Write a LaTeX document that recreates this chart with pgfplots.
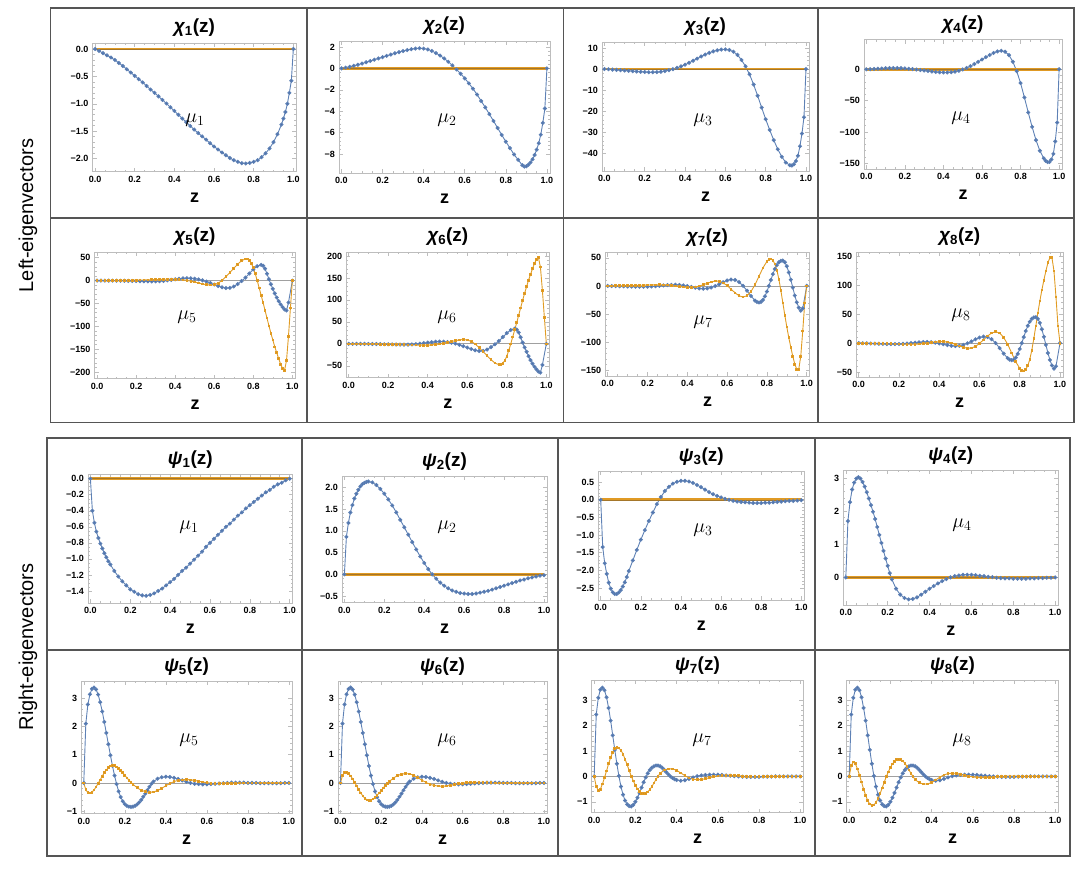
\RequirePackage{fix-cm}
\documentclass[border=0pt]{standalone}
\usepackage[no-math]{fontspec}
\setmainfont{Liberation Sans}
\usepackage{pgfplots}
\pgfplotsset{compat=1.18}
\definecolor{blueL}{HTML}{5E81B5}
\definecolor{blueM}{HTML}{4B6FAB}
\definecolor{orangeL}{HTML}{E19C24}
\definecolor{orangeM}{HTML}{D98F1A}
\definecolor{orangeF}{HTML}{E09A24}
\definecolor{flatcore}{HTML}{A4762A}
\definecolor{frameG}{HTML}{BDBDBD}
\definecolor{zeroG}{HTML}{A0A0A0}
\definecolor{boxG}{HTML}{555555}
\newcommand\tickfont{\fontsize{9}{10}\selectfont\bfseries}
\newcommand\ttlfont{\fontsize{19}{22}\selectfont\bfseries}
\newcommand\zfont{\fontsize{18}{21}\selectfont\bfseries}
\newcommand\mufont{\fontsize{20}{24}\selectfont}
\newcommand\sidefont{\fontsize{20}{24}\selectfont}
\pgfplotsset{
 panel/.style={
  scale only axis, anchor=south west,
  xmin=-0.012, xmax=1.015,
  xtick={0,0.2,0.4,0.6,0.8,1.0},
  xticklabels={0.0,0.2,0.4,0.6,0.8,1.0},
  minor x tick num=3, minor y tick num=4,
  axis line style={draw=frameG, line width=0.6pt},
  tick style={draw=frameG, line width=0.5pt},
  major tick length=4pt, minor tick length=2pt,
  tick align=inside,
  xticklabel style={font=\tickfont, text=black, anchor=north, inner sep=0pt, yshift=-4pt},
  yticklabel style={font=\tickfont, text=black, anchor=east, inner sep=0pt, xshift=-4pt},
  xlabel={z},
  xlabel style={font=\zfont, at={(axis description cs:0.5,0)}, anchor=base, yshift=-30.5pt},
  title style={font=\ttlfont, at={(axis description cs:0.5,1)}, anchor=base, yshift=4pt},
  extra y ticks={0}, extra y tick labels={},
  extra y tick style={grid=major, major grid style={draw=zeroG, line width=0.8pt}, major tick length=0pt},
 },
 bl/.style={color=blueL, line width=0.9pt, mark=*, mark size=1.55pt, mark options={draw=none, fill=blueM}},
 orl/.style={color=orangeL, line width=0.9pt, mark=square*, mark size=0.85pt, mark options={draw=none, fill=orangeM}},
 flat/.style={color=orangeF, line width=2.8pt},
 flatc/.style={color=flatcore, line width=0.6pt},
}
\begin{document}
\begin{tikzpicture}
\path[use as bounding box] (0,0) rectangle (1084pt,875pt);

% ---------- chi 1
\begin{axis}[panel, at={(92.7pt,703.3pt)}, width=203.6pt, height=128.7pt,
  ymin=-2.24, ymax=0.11, ytick={-2,-1.5,-1,-0.5,0}, yticklabels={−2.0,−1.5,−1.0,−0.5,0.0},
  title={{\itshape χ}\textsubscript{1}(z)}]
\addplot[bl] coordinates {(0,0) (0.02,-0.035) (0.04,-0.075) (0.06,-0.115) (0.08,-0.155) (0.10,-0.200) (0.12,-0.255) (0.14,-0.310) (0.16,-0.370) (0.18,-0.430) (0.20,-0.490) (0.22,-0.550) (0.24,-0.610) (0.26,-0.675) (0.28,-0.740) (0.30,-0.800) (0.32,-0.865) (0.34,-0.930) (0.36,-0.995) (0.38,-1.065) (0.40,-1.130) (0.42,-1.200) (0.44,-1.270) (0.46,-1.335) (0.48,-1.405) (0.50,-1.470) (0.52,-1.535) (0.54,-1.595) (0.56,-1.655) (0.58,-1.720) (0.60,-1.780) (0.62,-1.835) (0.64,-1.890) (0.66,-1.940) (0.68,-1.990) (0.70,-2.030) (0.72,-2.060) (0.74,-2.085) (0.76,-2.090) (0.78,-2.080) (0.80,-2.060) (0.82,-2.030) (0.84,-1.975) (0.86,-1.905) (0.88,-1.815) (0.90,-1.700) (0.92,-1.555) (0.94,-1.380) (0.95,-1.270) (0.96,-1.150) (0.97,-1.000) (0.98,-0.800) (0.99,-0.580) (1.00,0)};
\addplot[flat] coordinates {(0,0) (1,0)};
\addplot[flatc] coordinates {(0,0) (1,0)};
\end{axis}

% ---------- chi 2
\begin{axis}[panel, at={(339pt,702pt)}, width=211pt, height=132pt,
  ymin=-9.78, ymax=2.56, ytick={-8,-6,-4,-2,0,2}, yticklabels={−8,−6,−4,−2,0,2},
  title={{\itshape χ}\textsubscript{2}(z)}]
\addplot[bl] coordinates {(0,0) (0.02,0.07) (0.04,0.15) (0.06,0.24) (0.08,0.34) (0.10,0.45) (0.12,0.57) (0.14,0.69) (0.16,0.81) (0.18,0.93) (0.20,1.05) (0.22,1.17) (0.24,1.29) (0.26,1.41) (0.28,1.52) (0.30,1.62) (0.32,1.71) (0.34,1.79) (0.36,1.85) (0.38,1.88) (0.40,1.85) (0.42,1.77) (0.44,1.63) (0.46,1.43) (0.48,1.20) (0.50,0.93) (0.52,0.62) (0.54,0.28) (0.56,-0.10) (0.58,-0.50) (0.60,-0.93) (0.62,-1.40) (0.64,-1.90) (0.66,-2.45) (0.68,-3.05) (0.70,-3.65) (0.72,-4.28) (0.74,-4.92) (0.76,-5.57) (0.78,-6.22) (0.80,-6.85) (0.82,-7.45) (0.84,-8.05) (0.86,-8.55) (0.88,-9.05) (0.89,-9.18) (0.90,-9.15) (0.91,-9.00) (0.92,-8.80) (0.93,-8.50) (0.94,-8.10) (0.95,-7.60) (0.96,-7.00) (0.97,-6.20) (0.98,-5.10) (0.99,-3.75) (1.00,0)};
\addplot[flat] coordinates {(0,0) (1,0)};
\addplot[flatc] coordinates {(0,0) (1,0)};
\end{axis}

% ---------- chi 3
\begin{axis}[panel, at={(602pt,704pt)}, width=207pt, height=129pt,
  ymin=-48.2, ymax=12.8, ytick={-40,-30,-20,-10,0,10}, yticklabels={−40,−30,−20,−10,0,10},
  title={{\itshape χ}\textsubscript{3}(z)}]
\addplot[bl] coordinates {(0,0) (0.02,-0.1) (0.04,-0.25) (0.06,-0.4) (0.08,-0.55) (0.10,-0.7) (0.12,-0.85) (0.14,-1.0) (0.16,-1.15) (0.18,-1.3) (0.20,-1.4) (0.22,-1.5) (0.24,-1.5) (0.26,-1.45) (0.28,-1.25) (0.30,-0.95) (0.32,-0.55) (0.34,-0.05) (0.36,0.55) (0.38,1.25) (0.40,2.05) (0.42,2.95) (0.44,3.95) (0.46,4.95) (0.48,5.95) (0.50,6.85) (0.52,7.65) (0.54,8.35) (0.56,8.85) (0.58,9.2) (0.60,9.3) (0.62,9.0) (0.64,8.2) (0.66,6.7) (0.68,4.3) (0.70,1.3) (0.72,-2.5) (0.74,-7.3) (0.76,-12.6) (0.78,-18.2) (0.80,-23.7) (0.82,-28.8) (0.84,-33.6) (0.86,-37.9) (0.88,-41.5) (0.90,-44.2) (0.92,-45.5) (0.93,-45.6) (0.94,-45.0) (0.95,-43.5) (0.96,-41.0) (0.97,-36.5) (0.98,-30.5) (0.99,-22.8) (1.00,0)};
\addplot[flat] coordinates {(0,0) (1,0)};
\addplot[flatc] coordinates {(0,0) (1,0)};
\end{axis}

% ---------- chi 4
\begin{axis}[panel, at={(864pt,705.7pt)}, width=198pt, height=129.6pt,
  ymin=-159.6, ymax=47.2, ytick={-150,-100,-50,0}, yticklabels={−150,−100,−50,0},
  title={{\itshape χ}\textsubscript{4}(z)}]
\addplot[bl] coordinates {(0,0) (0.02,0.2) (0.04,0.5) (0.06,0.9) (0.08,1.3) (0.10,1.6) (0.12,1.9) (0.14,2.0) (0.16,2.0) (0.18,1.8) (0.20,1.4) (0.22,0.9) (0.24,0.3) (0.26,-0.4) (0.28,-1.2) (0.30,-2.0) (0.32,-2.8) (0.34,-3.6) (0.36,-4.3) (0.38,-4.8) (0.40,-5.1) (0.42,-5.1) (0.44,-4.7) (0.46,-3.8) (0.48,-2.3) (0.50,-0.3) (0.52,2.1) (0.54,5.0) (0.56,8.3) (0.58,11.8) (0.60,15.5) (0.62,19.3) (0.64,22.8) (0.66,26.0) (0.68,28.5) (0.70,29.5) (0.72,28.0) (0.74,22.5) (0.76,12.0) (0.78,-3) (0.80,-22) (0.82,-45) (0.84,-69) (0.86,-92) (0.88,-113) (0.90,-130) (0.92,-142) (0.93,-146) (0.94,-148) (0.95,-148) (0.96,-144) (0.97,-135) (0.98,-115) (0.99,-85) (1.00,0)};
\addplot[flat] coordinates {(0,0) (1,0)};
\addplot[flatc] coordinates {(0,0) (1,0)};
\end{axis}

% ---------- chi 5
\begin{axis}[panel, at={(94.7pt,496.3pt)}, width=200.6pt, height=126.7pt,
  ymin=-214.7, ymax=62.6, ytick={-200,-150,-100,-50,0,50}, yticklabels={−200,−150,−100,−50,0,50},
  title={{\itshape χ}\textsubscript{5}(z)}]
\addplot[bl] coordinates {(0,0) (0.02,0) (0.04,0) (0.06,0) (0.08,-0.1) (0.10,-0.2) (0.12,-0.3) (0.14,-0.4) (0.16,-0.6) (0.18,-0.8) (0.20,-1.0) (0.22,-1.2) (0.24,-1.5) (0.26,-1.7) (0.28,-1.8) (0.30,-1.7) (0.32,-1.3) (0.34,-0.6) (0.36,0.4) (0.38,1.6) (0.40,2.8) (0.42,3.9) (0.44,4.8) (0.46,5.2) (0.48,5.0) (0.50,4.1) (0.52,2.6) (0.54,0.5) (0.56,-2.2) (0.58,-5.3) (0.60,-8.5) (0.62,-11.8) (0.64,-14.6) (0.66,-16.3) (0.68,-16.0) (0.70,-13.0) (0.72,-7.5) (0.74,-1.0) (0.76,6.5) (0.78,15.5) (0.80,24.5) (0.82,31.5) (0.84,34.5) (0.85,32.5) (0.86,26.0) (0.87,15.0) (0.88,3.0) (0.89,-8.0) (0.90,-18.0) (0.91,-28.0) (0.92,-37.0) (0.93,-45.0) (0.94,-52.0) (0.95,-58.0) (0.96,-63.0) (0.97,-65.5) (0.98,-48.0) (1.00,0)};
\addplot[orl] coordinates {(0,0) (0.02,0) (0.04,0) (0.06,0.1) (0.08,0.2) (0.10,0.3) (0.12,0.4) (0.14,0.5) (0.16,0.6) (0.18,0.8) (0.20,1.0) (0.22,1.2) (0.24,1.4) (0.26,1.6) (0.28,1.9) (0.30,2.2) (0.32,2.5) (0.34,2.8) (0.36,3.0) (0.38,3.1) (0.40,3.0) (0.42,2.4) (0.44,1.5) (0.46,0.3) (0.48,-1.3) (0.50,-3.2) (0.52,-5.3) (0.54,-7.3) (0.56,-9.0) (0.58,-9.8) (0.60,-8.8) (0.62,-5.5) (0.64,0.5) (0.66,8.5) (0.68,17.5) (0.70,27.0) (0.72,36.0) (0.74,43.5) (0.76,47.5) (0.77,47.5) (0.78,44.0) (0.79,38.0) (0.80,28.0) (0.81,15.0) (0.82,0) (0.83,-16) (0.84,-32) (0.85,-48) (0.86,-65) (0.87,-82) (0.88,-99) (0.89,-115) (0.90,-130) (0.91,-145) (0.92,-158) (0.93,-171) (0.94,-183) (0.95,-192) (0.96,-196) (0.97,-175) (0.98,-122) (0.99,-60) (1.00,0)};
\end{axis}

% ---------- chi 6
\begin{axis}[panel, at={(346.3pt,497.3pt)}, width=203pt, height=125.7pt,
  ymin=-77, ymax=209, ytick={-50,0,50,100,150,200}, yticklabels={−50,0,50,100,150,200},
  title={{\itshape χ}\textsubscript{6}(z)}]
\addplot[bl] coordinates {(0,0) (0.02,0) (0.04,0) (0.06,0) (0.08,-0.1) (0.10,-0.2) (0.12,-0.3) (0.14,-0.4) (0.16,-0.6) (0.18,-0.8) (0.20,-1.0) (0.22,-1.2) (0.24,-1.5) (0.26,-1.7) (0.28,-1.8) (0.30,-1.7) (0.32,-1.3) (0.34,-0.6) (0.36,0.4) (0.38,1.6) (0.40,2.8) (0.42,3.9) (0.44,4.8) (0.46,5.2) (0.48,5.0) (0.50,4.1) (0.52,2.6) (0.54,0.5) (0.56,-2.2) (0.58,-5.3) (0.60,-8.5) (0.62,-11.8) (0.64,-14.6) (0.66,-16.3) (0.68,-16.0) (0.70,-13.0) (0.72,-7.5) (0.74,-1.0) (0.76,6.5) (0.78,15.5) (0.80,24.5) (0.82,31.5) (0.84,34.5) (0.85,32.5) (0.86,26.0) (0.87,15.0) (0.88,3.0) (0.89,-8.0) (0.90,-18.0) (0.91,-28.0) (0.92,-37.0) (0.93,-45.0) (0.94,-52.0) (0.95,-58.0) (0.96,-63.0) (0.97,-65.5) (0.98,-48.0) (1.00,0)};
\addplot[orl] coordinates {(0,0) (0.02,0) (0.04,0) (0.06,-0.1) (0.08,-0.2) (0.10,-0.3) (0.12,-0.4) (0.14,-0.5) (0.16,-0.6) (0.18,-0.8) (0.20,-1.0) (0.22,-1.2) (0.24,-1.4) (0.26,-1.6) (0.28,-1.9) (0.30,-2.2) (0.32,-2.5) (0.34,-2.8) (0.36,-3.0) (0.38,-3.1) (0.40,-3.0) (0.42,-2.4) (0.44,-1.5) (0.46,-0.3) (0.48,1.3) (0.50,3.2) (0.52,5.3) (0.54,7.3) (0.56,9.0) (0.58,9.8) (0.60,8.8) (0.62,5.5) (0.64,-0.5) (0.66,-8.5) (0.68,-17.5) (0.70,-27.0) (0.72,-36.0) (0.74,-43.5) (0.76,-47.5) (0.77,-47.5) (0.78,-44.0) (0.79,-38.0) (0.80,-28.0) (0.81,-15.0) (0.82,0) (0.83,16) (0.84,32) (0.85,48) (0.86,65) (0.87,82) (0.88,99) (0.89,115) (0.90,130) (0.91,145) (0.92,158) (0.93,171) (0.94,183) (0.95,192) (0.96,196) (0.97,175) (0.98,122) (0.99,60) (1.00,0)};
\end{axis}

% ---------- chi 7
\begin{axis}[panel, at={(605.3pt,499pt)}, width=204.4pt, height=123.3pt,
  ymin=-160, ymax=59, ytick={-150,-100,-50,0,50}, yticklabels={−150,−100,−50,0,50},
  title={{\itshape χ}\textsubscript{7}(z)}]
\addplot[bl] coordinates {(0,0) (0.02,-0.2) (0.04,-0.4) (0.06,-0.6) (0.08,-0.8) (0.10,-1.0) (0.12,-1.2) (0.14,-1.4) (0.16,-1.5) (0.18,-1.5) (0.20,-1.4) (0.22,-1.1) (0.24,-0.6) (0.26,0.1) (0.28,0.9) (0.30,1.5) (0.32,1.9) (0.34,2.0) (0.36,1.7) (0.38,0.9) (0.40,-0.3) (0.42,-1.8) (0.44,-3.3) (0.46,-4.5) (0.48,-5.0) (0.50,-4.5) (0.52,-2.9) (0.54,-0.3) (0.56,3.0) (0.58,6.6) (0.60,9.7) (0.62,11.3) (0.64,10.6) (0.66,6.8) (0.68,0.2) (0.70,-8.5) (0.72,-18.0) (0.74,-26.0) (0.75,-28.5) (0.76,-29.5) (0.77,-28.5) (0.78,-25.0) (0.79,-18.5) (0.80,-10.0) (0.81,0) (0.82,10.5) (0.83,21.0) (0.84,30.0) (0.85,37.0) (0.86,42.0) (0.87,44.5) (0.88,45.0) (0.89,42.0) (0.90,35.0) (0.91,24.0) (0.92,11.0) (0.93,-3.0) (0.94,-17.0) (0.95,-29.0) (0.96,-38.5) (0.97,-44.0) (0.98,-40.0) (1.00,0)};
\addplot[orl] coordinates {(0,0) (0.02,0.1) (0.04,0.2) (0.06,0.3) (0.08,0.4) (0.10,0.5) (0.12,0.7) (0.14,0.9) (0.16,1.1) (0.18,1.3) (0.20,1.5) (0.22,1.7) (0.24,1.9) (0.26,2.0) (0.28,1.9) (0.30,1.5) (0.32,0.8) (0.34,-0.1) (0.36,-1.1) (0.38,-2.0) (0.40,-2.7) (0.42,-2.8) (0.44,-2.0) (0.46,-0.3) (0.48,2.0) (0.50,4.6) (0.52,7.2) (0.54,8.8) (0.56,8.4) (0.58,5.5) (0.60,0.5) (0.62,-5.8) (0.64,-12.3) (0.66,-17.5) (0.68,-19.8) (0.70,-17.5) (0.72,-10) (0.74,2) (0.76,17) (0.78,32) (0.80,43.5) (0.81,47) (0.82,48) (0.83,45.5) (0.84,39) (0.85,28) (0.86,12) (0.87,-8) (0.88,-30) (0.89,-52) (0.90,-73) (0.91,-92) (0.92,-109) (0.93,-125) (0.94,-139) (0.95,-148) (0.96,-148) (0.97,-125) (0.98,-80) (0.99,-30) (1.00,0)};
\end{axis}

% ---------- chi 8
\begin{axis}[panel, at={(856.3pt,497.7pt)}, width=206.7pt, height=125.3pt,
  ymin=-59, ymax=157.6, ytick={-50,0,50,100,150}, yticklabels={−50,0,50,100,150},
  title={{\itshape χ}\textsubscript{8}(z)}]
\addplot[bl] coordinates {(0,0) (0.02,-0.2) (0.04,-0.4) (0.06,-0.6) (0.08,-0.8) (0.10,-1.0) (0.12,-1.2) (0.14,-1.4) (0.16,-1.5) (0.18,-1.5) (0.20,-1.4) (0.22,-1.1) (0.24,-0.6) (0.26,0.1) (0.28,0.9) (0.30,1.5) (0.32,1.9) (0.34,2.0) (0.36,1.7) (0.38,0.9) (0.40,-0.3) (0.42,-1.8) (0.44,-3.3) (0.46,-4.5) (0.48,-5.0) (0.50,-4.5) (0.52,-2.9) (0.54,-0.3) (0.56,3.0) (0.58,6.6) (0.60,9.7) (0.62,11.3) (0.64,10.6) (0.66,6.8) (0.68,0.2) (0.70,-8.5) (0.72,-18.0) (0.74,-26.0) (0.75,-28.5) (0.76,-29.5) (0.77,-28.5) (0.78,-25.0) (0.79,-18.5) (0.80,-10.0) (0.81,0) (0.82,10.5) (0.83,21.0) (0.84,30.0) (0.85,37.0) (0.86,42.0) (0.87,44.5) (0.88,45.0) (0.89,42.0) (0.90,35.0) (0.91,24.0) (0.92,11.0) (0.93,-3.0) (0.94,-17.0) (0.95,-29.0) (0.96,-38.5) (0.97,-44.0) (0.98,-40.0) (1.00,0)};
\addplot[orl] coordinates {(0,0) (0.02,-0.1) (0.04,-0.2) (0.06,-0.3) (0.08,-0.4) (0.10,-0.5) (0.12,-0.7) (0.14,-0.9) (0.16,-1.1) (0.18,-1.3) (0.20,-1.5) (0.22,-1.7) (0.24,-1.9) (0.26,-2.0) (0.28,-1.9) (0.30,-1.5) (0.32,-0.8) (0.34,0.1) (0.36,1.1) (0.38,2.0) (0.40,2.7) (0.42,2.8) (0.44,2.0) (0.46,0.3) (0.48,-2.0) (0.50,-4.6) (0.52,-7.2) (0.54,-8.8) (0.56,-8.4) (0.58,-5.5) (0.60,-0.5) (0.62,5.8) (0.64,12.3) (0.66,17.5) (0.68,19.8) (0.70,17.5) (0.72,10) (0.74,-2) (0.76,-17) (0.78,-32) (0.80,-43.5) (0.81,-47) (0.82,-48) (0.83,-45.5) (0.84,-39) (0.85,-28) (0.86,-12) (0.87,8) (0.88,30) (0.89,52) (0.90,73) (0.91,92) (0.92,109) (0.93,125) (0.94,139) (0.95,148) (0.96,148) (0.97,125) (0.98,80) (0.99,30) (1.00,0)};
\end{axis}

% ---------- psi 1
\begin{axis}[panel, at={(88pt,272pt)}, width=204.7pt, height=128.3pt,
  ymin=-1.55, ymax=0.05, ytick={-1.4,-1.2,-1,-0.8,-0.6,-0.4,-0.2,0}, yticklabels={−1.4,−1.2,−1.0,−0.8,−0.6,−0.4,−0.2,0.0},
  minor y tick num=3,
  title={{\itshape ψ}\textsubscript{1}(z)}]
\addplot[bl] coordinates {(0,0) (0.01,-0.40) (0.02,-0.55) (0.03,-0.66) (0.04,-0.74) (0.05,-0.81) (0.06,-0.87) (0.07,-0.93) (0.08,-0.98) (0.09,-1.03) (0.10,-1.07) (0.12,-1.15) (0.14,-1.22) (0.16,-1.28) (0.18,-1.33) (0.20,-1.38) (0.22,-1.41) (0.24,-1.44) (0.26,-1.455) (0.28,-1.46) (0.30,-1.45) (0.32,-1.43) (0.34,-1.40) (0.36,-1.37) (0.38,-1.33) (0.40,-1.29) (0.42,-1.25) (0.44,-1.20) (0.46,-1.15) (0.48,-1.11) (0.50,-1.06) (0.52,-1.01) (0.54,-0.96) (0.56,-0.91) (0.58,-0.85) (0.60,-0.80) (0.62,-0.75) (0.64,-0.70) (0.66,-0.65) (0.68,-0.60) (0.70,-0.56) (0.72,-0.51) (0.74,-0.46) (0.76,-0.42) (0.78,-0.37) (0.80,-0.33) (0.82,-0.29) (0.84,-0.25) (0.86,-0.21) (0.88,-0.17) (0.90,-0.14) (0.92,-0.10) (0.94,-0.07) (0.96,-0.05) (0.98,-0.02) (1.00,0)};
\addplot[flat] coordinates {(0,0) (1,0)};
\addplot[flatc] coordinates {(0,0) (1,0)};
\end{axis}

% ---------- psi 2
\begin{axis}[panel, at={(342pt,272.3pt)}, width=205pt, height=126.4pt,
  ymin=-0.65, ymax=2.25, ytick={-0.5,0,0.5,1,1.5,2}, yticklabels={−0.5,0.0,0.5,1.0,1.5,2.0},
  title={{\itshape ψ}\textsubscript{2}(z)}]
\addplot[bl] coordinates {(0,0) (0.01,0.86) (0.02,1.18) (0.03,1.42) (0.04,1.59) (0.05,1.74) (0.06,1.85) (0.07,1.94) (0.08,2.02) (0.09,2.07) (0.10,2.10) (0.11,2.12) (0.12,2.13) (0.14,2.11) (0.16,2.05) (0.18,1.96) (0.20,1.85) (0.22,1.72) (0.24,1.58) (0.26,1.42) (0.28,1.25) (0.30,1.08) (0.32,0.91) (0.34,0.74) (0.36,0.57) (0.38,0.41) (0.40,0.26) (0.42,0.12) (0.44,0.00) (0.46,-0.10) (0.48,-0.19) (0.50,-0.26) (0.52,-0.32) (0.54,-0.37) (0.56,-0.40) (0.58,-0.43) (0.60,-0.44) (0.62,-0.45) (0.64,-0.45) (0.66,-0.44) (0.68,-0.42) (0.70,-0.40) (0.72,-0.38) (0.74,-0.35) (0.76,-0.32) (0.78,-0.29) (0.80,-0.26) (0.82,-0.23) (0.84,-0.20) (0.86,-0.17) (0.88,-0.14) (0.90,-0.12) (0.92,-0.09) (0.94,-0.07) (0.96,-0.05) (0.98,-0.03) (1.00,-0.02)};
\addplot[flat] coordinates {(0,0) (1,0)};
\addplot[flatc] coordinates {(0,0) (1,0)};
\end{axis}

% ---------- psi 3
\begin{axis}[panel, at={(598.3pt,274.7pt)}, width=206pt, height=129pt,
  ymin=-2.85, ymax=0.81, ytick={-2.5,-2,-1.5,-1,-0.5,0,0.5}, yticklabels={−2.5,−2.0,−1.5,−1.0,−0.5,0.0,0.5},
  title={{\itshape ψ}\textsubscript{3}(z)}]
\addplot[bl] coordinates {(0,0) (0.01,-1.34) (0.02,-1.80) (0.03,-2.10) (0.04,-2.35) (0.05,-2.52) (0.06,-2.62) (0.07,-2.67) (0.08,-2.67) (0.09,-2.63) (0.10,-2.56) (0.11,-2.46) (0.12,-2.34) (0.13,-2.19) (0.14,-2.02) (0.16,-1.72) (0.18,-1.42) (0.20,-1.13) (0.22,-0.86) (0.24,-0.60) (0.26,-0.36) (0.28,-0.12) (0.30,0.08) (0.32,0.25) (0.34,0.37) (0.36,0.46) (0.38,0.51) (0.40,0.54) (0.42,0.54) (0.44,0.52) (0.46,0.48) (0.48,0.42) (0.50,0.36) (0.52,0.29) (0.54,0.22) (0.56,0.16) (0.58,0.11) (0.60,0.07) (0.62,0.03) (0.64,0.00) (0.66,-0.03) (0.68,-0.05) (0.70,-0.06) (0.72,-0.07) (0.74,-0.08) (0.76,-0.09) (0.78,-0.09) (0.80,-0.09) (0.82,-0.08) (0.84,-0.08) (0.86,-0.07) (0.88,-0.06) (0.90,-0.05) (0.92,-0.04) (0.94,-0.03) (0.96,-0.03) (0.98,-0.02) (1.00,-0.01)};
\addplot[flat] coordinates {(0,0) (1,0)};
\addplot[flatc] coordinates {(0,0) (1,0)};
\end{axis}

% ---------- psi 4
\begin{axis}[panel, at={(843.3pt,269.7pt)}, width=215pt, height=135pt,
  ymin=-0.84, ymax=3.23, ytick={0,1,2,3}, yticklabels={0,1,2,3},
  title={{\itshape ψ}\textsubscript{4}(z)}]
\addplot[bl] coordinates {(0,0) (0.01,1.70) (0.02,2.27) (0.03,2.65) (0.04,2.86) (0.05,2.98) (0.06,3.02) (0.07,2.98) (0.08,2.88) (0.09,2.74) (0.10,2.57) (0.11,2.38) (0.12,2.18) (0.13,1.98) (0.14,1.76) (0.15,1.52) (0.16,1.28) (0.17,1.04) (0.18,0.80) (0.19,0.57) (0.20,0.35) (0.21,0.13) (0.22,-0.06) (0.24,-0.34) (0.26,-0.52) (0.28,-0.62) (0.30,-0.66) (0.32,-0.65) (0.34,-0.60) (0.36,-0.52) (0.38,-0.43) (0.40,-0.34) (0.42,-0.26) (0.44,-0.18) (0.46,-0.11) (0.48,-0.05) (0.50,0.00) (0.52,0.04) (0.54,0.06) (0.56,0.08) (0.58,0.08) (0.60,0.08) (0.62,0.07) (0.64,0.05) (0.66,0.04) (0.68,0.02) (0.70,0.01) (0.72,-0.01) (0.74,-0.02) (0.76,-0.03) (0.78,-0.03) (0.80,-0.04) (0.82,-0.04) (0.84,-0.04) (0.86,-0.04) (0.88,-0.03) (0.90,-0.03) (0.92,-0.02) (0.94,-0.02) (0.96,-0.01) (0.98,-0.01) (1.00,0)};
\addplot[flat] coordinates {(0,0) (1,0)};
\addplot[flatc] coordinates {(0,0) (1,0)};
\end{axis}

% ---------- psi 5
\begin{axis}[panel, at={(81.3pt,61.3pt)}, width=210.7pt, height=132.4pt,
  ymin=-1.09, ymax=3.6, ytick={-1,0,1,2,3}, yticklabels={−1,0,1,2,3},
  title={{\itshape ψ}\textsubscript{5}(z)}]
\addplot[bl] coordinates {(0,0) (0.01,2.10) (0.02,2.78) (0.03,3.14) (0.04,3.33) (0.05,3.38) (0.06,3.31) (0.07,3.13) (0.08,2.86) (0.09,2.53) (0.10,2.16) (0.11,1.77) (0.12,1.37) (0.13,0.98) (0.14,0.60) (0.15,0.26) (0.16,-0.04) (0.17,-0.30) (0.18,-0.50) (0.19,-0.65) (0.20,-0.75) (0.21,-0.81) (0.22,-0.84) (0.23,-0.85) (0.24,-0.84) (0.25,-0.81) (0.26,-0.76) (0.27,-0.69) (0.28,-0.60) (0.29,-0.49) (0.30,-0.38) (0.31,-0.26) (0.32,-0.14) (0.33,-0.03) (0.34,0.05) (0.36,0.15) (0.38,0.20) (0.40,0.22) (0.42,0.21) (0.44,0.18) (0.46,0.14) (0.48,0.09) (0.50,0.04) (0.52,0.00) (0.54,-0.03) (0.56,-0.04) (0.58,-0.05) (0.60,-0.05) (0.62,-0.04) (0.64,-0.03) (0.66,-0.02) (0.68,-0.01) (0.70,0.00) (0.72,0.01) (0.74,0.01) (0.76,0.01) (0.78,0.01) (0.80,0.00) (0.82,0.00) (0.84,0.00) (0.86,-0.01) (0.88,-0.01) (0.90,-0.01) (0.92,-0.01) (0.94,-0.01) (0.96,-0.01) (0.98,0.00) (1.00,0)};
\addplot[orl] coordinates {(0,0) (0.01,-0.24) (0.02,-0.34) (0.03,-0.36) (0.04,-0.33) (0.05,-0.25) (0.06,-0.14) (0.07,-0.02) (0.08,0.11) (0.09,0.24) (0.10,0.36) (0.11,0.46) (0.12,0.54) (0.13,0.60) (0.14,0.62) (0.15,0.61) (0.16,0.57) (0.17,0.51) (0.18,0.44) (0.19,0.36) (0.20,0.27) (0.21,0.18) (0.22,0.10) (0.23,0.02) (0.24,-0.05) (0.26,-0.17) (0.28,-0.26) (0.30,-0.31) (0.32,-0.33) (0.34,-0.32) (0.36,-0.27) (0.38,-0.19) (0.40,-0.10) (0.42,-0.02) (0.44,0.05) (0.46,0.09) (0.48,0.11) (0.50,0.12) (0.52,0.11) (0.54,0.09) (0.56,0.06) (0.58,0.03) (0.60,0.01) (0.62,-0.01) (0.64,-0.02) (0.66,-0.02) (0.68,-0.02) (0.70,-0.02) (0.72,-0.01) (0.74,-0.01) (0.76,0) (0.78,0) (0.80,0) (0.82,0) (0.84,0) (0.86,0) (0.88,0) (0.90,0) (0.92,0) (0.94,0) (0.96,0) (0.98,0) (1.00,0)};
\end{axis}

% ---------- psi 6
\begin{axis}[panel, at={(338pt,61.3pt)}, width=209pt, height=132.4pt,
  ymin=-1.09, ymax=3.6, ytick={-1,0,1,2,3}, yticklabels={−1,0,1,2,3},
  title={{\itshape ψ}\textsubscript{6}(z)}]
\addplot[bl] coordinates {(0,0) (0.01,2.10) (0.02,2.78) (0.03,3.14) (0.04,3.33) (0.05,3.38) (0.06,3.31) (0.07,3.13) (0.08,2.86) (0.09,2.53) (0.10,2.16) (0.11,1.77) (0.12,1.37) (0.13,0.98) (0.14,0.60) (0.15,0.26) (0.16,-0.04) (0.17,-0.30) (0.18,-0.50) (0.19,-0.65) (0.20,-0.75) (0.21,-0.81) (0.22,-0.84) (0.23,-0.85) (0.24,-0.84) (0.25,-0.81) (0.26,-0.76) (0.27,-0.69) (0.28,-0.60) (0.29,-0.49) (0.30,-0.38) (0.31,-0.26) (0.32,-0.14) (0.33,-0.03) (0.34,0.05) (0.36,0.15) (0.38,0.20) (0.40,0.22) (0.42,0.21) (0.44,0.18) (0.46,0.14) (0.48,0.09) (0.50,0.04) (0.52,0.00) (0.54,-0.03) (0.56,-0.04) (0.58,-0.05) (0.60,-0.05) (0.62,-0.04) (0.64,-0.03) (0.66,-0.02) (0.68,-0.01) (0.70,0.00) (0.72,0.01) (0.74,0.01) (0.76,0.01) (0.78,0.01) (0.80,0.00) (0.82,0.00) (0.84,0.00) (0.86,-0.01) (0.88,-0.01) (0.90,-0.01) (0.92,-0.01) (0.94,-0.01) (0.96,-0.01) (0.98,0.00) (1.00,0)};
\addplot[orl] coordinates {(0,0) (0.01,0.26) (0.02,0.37) (0.03,0.36) (0.04,0.33) (0.05,0.25) (0.06,0.14) (0.07,0.02) (0.08,-0.11) (0.09,-0.24) (0.10,-0.36) (0.11,-0.46) (0.12,-0.54) (0.13,-0.60) (0.14,-0.62) (0.15,-0.61) (0.16,-0.57) (0.17,-0.51) (0.18,-0.44) (0.19,-0.36) (0.20,-0.27) (0.21,-0.18) (0.22,-0.10) (0.23,-0.02) (0.24,0.05) (0.26,0.17) (0.28,0.26) (0.30,0.31) (0.32,0.33) (0.34,0.32) (0.36,0.27) (0.38,0.19) (0.40,0.10) (0.42,0.02) (0.44,-0.05) (0.46,-0.09) (0.48,-0.11) (0.50,-0.12) (0.52,-0.11) (0.54,-0.09) (0.56,-0.06) (0.58,-0.03) (0.60,-0.01) (0.62,0.01) (0.64,0.02) (0.66,0.02) (0.68,0.02) (0.70,0.02) (0.72,0.01) (0.74,0.01) (0.76,0) (0.78,0) (0.80,0) (0.82,0) (0.84,0) (0.86,0) (0.88,0) (0.90,0) (0.92,0) (0.94,0) (0.96,0) (0.98,0) (1.00,0)};
\end{axis}

% ---------- psi 7
\begin{axis}[panel, at={(591.7pt,62.3pt)}, width=211.6pt, height=132.4pt,
  ymin=-1.43, ymax=3.79, ytick={-1,0,1,2,3}, yticklabels={−1,0,1,2,3},
  title={{\itshape ψ}\textsubscript{7}(z)}]
\addplot[bl] coordinates {(0,0) (0.01,2.44) (0.02,3.10) (0.03,3.42) (0.04,3.50) (0.05,3.40) (0.06,3.12) (0.07,2.70) (0.08,2.20) (0.09,1.62) (0.10,1.05) (0.11,0.50) (0.12,0.02) (0.13,-0.40) (0.14,-0.72) (0.15,-0.95) (0.16,-1.10) (0.17,-1.17) (0.18,-1.18) (0.19,-1.12) (0.20,-1.00) (0.21,-0.84) (0.22,-0.65) (0.23,-0.44) (0.24,-0.23) (0.25,-0.04) (0.26,0.12) (0.27,0.25) (0.28,0.34) (0.29,0.40) (0.30,0.43) (0.31,0.43) (0.32,0.40) (0.33,0.34) (0.34,0.26) (0.35,0.17) (0.36,0.08) (0.37,0.00) (0.38,-0.06) (0.39,-0.11) (0.40,-0.14) (0.42,-0.17) (0.44,-0.15) (0.46,-0.10) (0.48,-0.04) (0.50,0.01) (0.52,0.04) (0.54,0.06) (0.56,0.07) (0.58,0.07) (0.60,0.07) (0.62,0.06) (0.64,0.04) (0.66,0.03) (0.68,0.01) (0.70,0.00) (0.72,-0.01) (0.74,-0.02) (0.76,-0.02) (0.78,-0.02) (0.80,-0.02) (0.82,-0.01) (0.84,-0.01) (0.86,-0.01) (0.88,0) (0.90,0) (0.92,0) (0.94,0) (0.96,0) (0.98,0) (1.00,0)};
\addplot[orl] coordinates {(0,0) (0.01,-0.40) (0.02,-0.55) (0.03,-0.50) (0.04,-0.30) (0.05,-0.05) (0.06,0.22) (0.07,0.50) (0.08,0.75) (0.09,0.95) (0.10,1.09) (0.11,1.15) (0.12,1.12) (0.13,1.03) (0.14,0.88) (0.15,0.68) (0.16,0.46) (0.17,0.23) (0.18,0.01) (0.19,-0.18) (0.20,-0.35) (0.21,-0.49) (0.22,-0.59) (0.23,-0.66) (0.24,-0.68) (0.25,-0.67) (0.26,-0.61) (0.27,-0.52) (0.28,-0.40) (0.29,-0.26) (0.30,-0.12) (0.31,0.01) (0.32,0.12) (0.34,0.25) (0.36,0.30) (0.38,0.30) (0.40,0.24) (0.42,0.14) (0.44,0.03) (0.46,-0.06) (0.48,-0.11) (0.50,-0.13) (0.52,-0.12) (0.54,-0.09) (0.56,-0.05) (0.58,-0.01) (0.60,0.02) (0.62,0.04) (0.64,0.05) (0.66,0.05) (0.68,0.04) (0.70,0.03) (0.72,0.01) (0.74,0) (0.76,-0.01) (0.78,-0.01) (0.80,-0.01) (0.82,-0.01) (0.84,0) (0.86,0) (0.88,0) (0.90,0) (0.92,0) (0.94,0) (0.96,0) (0.98,0) (1.00,0)};
\end{axis}

% ---------- psi 8
\begin{axis}[panel, at={(846.7pt,62.3pt)}, width=211.6pt, height=132.4pt,
  ymin=-1.43, ymax=3.79, ytick={-1,0,1,2,3}, yticklabels={−1,0,1,2,3},
  title={{\itshape ψ}\textsubscript{8}(z)}]
\addplot[bl] coordinates {(0,0) (0.01,2.44) (0.02,3.10) (0.03,3.42) (0.04,3.50) (0.05,3.40) (0.06,3.12) (0.07,2.70) (0.08,2.20) (0.09,1.62) (0.10,1.05) (0.11,0.50) (0.12,0.02) (0.13,-0.40) (0.14,-0.72) (0.15,-0.95) (0.16,-1.10) (0.17,-1.17) (0.18,-1.18) (0.19,-1.12) (0.20,-1.00) (0.21,-0.84) (0.22,-0.65) (0.23,-0.44) (0.24,-0.23) (0.25,-0.04) (0.26,0.12) (0.27,0.25) (0.28,0.34) (0.29,0.40) (0.30,0.43) (0.31,0.43) (0.32,0.40) (0.33,0.34) (0.34,0.26) (0.35,0.17) (0.36,0.08) (0.37,0.00) (0.38,-0.06) (0.39,-0.11) (0.40,-0.14) (0.42,-0.17) (0.44,-0.15) (0.46,-0.10) (0.48,-0.04) (0.50,0.01) (0.52,0.04) (0.54,0.06) (0.56,0.07) (0.58,0.07) (0.60,0.07) (0.62,0.06) (0.64,0.04) (0.66,0.03) (0.68,0.01) (0.70,0.00) (0.72,-0.01) (0.74,-0.02) (0.76,-0.02) (0.78,-0.02) (0.80,-0.02) (0.82,-0.01) (0.84,-0.01) (0.86,-0.01) (0.88,0) (0.90,0) (0.92,0) (0.94,0) (0.96,0) (0.98,0) (1.00,0)};
\addplot[orl] coordinates {(0,0) (0.01,0.42) (0.02,0.57) (0.03,0.50) (0.04,0.30) (0.05,0.05) (0.06,-0.22) (0.07,-0.50) (0.08,-0.75) (0.09,-0.95) (0.10,-1.09) (0.11,-1.15) (0.12,-1.12) (0.13,-1.03) (0.14,-0.88) (0.15,-0.68) (0.16,-0.46) (0.17,-0.23) (0.18,-0.01) (0.19,0.18) (0.20,0.35) (0.21,0.49) (0.22,0.59) (0.23,0.66) (0.24,0.68) (0.25,0.67) (0.26,0.61) (0.27,0.52) (0.28,0.40) (0.29,0.26) (0.30,0.12) (0.31,-0.01) (0.32,-0.12) (0.34,-0.25) (0.36,-0.30) (0.38,-0.30) (0.40,-0.24) (0.42,-0.14) (0.44,-0.03) (0.46,0.06) (0.48,0.11) (0.50,0.13) (0.52,0.12) (0.54,0.09) (0.56,0.05) (0.58,0.01) (0.60,-0.02) (0.62,-0.04) (0.64,-0.05) (0.66,-0.05) (0.68,-0.04) (0.70,-0.03) (0.72,-0.01) (0.74,0) (0.76,0.01) (0.78,0.01) (0.80,0.01) (0.82,0.01) (0.84,0) (0.86,0) (0.88,0) (0.90,0) (0.92,0) (0.94,0) (0.96,0) (0.98,0) (1.00,0)};
\end{axis}

% ---------- mu labels
\node[font=\mufont] at (195pt,755pt) {$\mu_1$};
\node[font=\mufont] at (447pt,755pt) {$\mu_2$};
\node[font=\mufont] at (703pt,755pt) {$\mu_3$};
\node[font=\mufont] at (961pt,757pt) {$\mu_4$};
\node[font=\mufont] at (187pt,558pt) {$\mu_5$};
\node[font=\mufont] at (447pt,558pt) {$\mu_6$};
\node[font=\mufont] at (703pt,553pt) {$\mu_7$};
\node[font=\mufont] at (961pt,560pt) {$\mu_8$};
\node[font=\mufont] at (189pt,348pt) {$\mu_1$};
\node[font=\mufont] at (447pt,348pt) {$\mu_2$};
\node[font=\mufont] at (703pt,345pt) {$\mu_3$};
\node[font=\mufont] at (962pt,350pt) {$\mu_4$};
\node[font=\mufont] at (189pt,135pt) {$\mu_5$};
\node[font=\mufont] at (447pt,135pt) {$\mu_6$};
\node[font=\mufont] at (702pt,135pt) {$\mu_7$};
\node[font=\mufont] at (962pt,135pt) {$\mu_8$};

% ---------- frames
\draw[boxG, line width=1.2pt] (50.7pt,867pt) rectangle (1074pt,452.3pt);
\draw[boxG, line width=1.2pt] (307pt,867pt) -- (307pt,452.3pt) (563.5pt,867pt) -- (563.5pt,452.3pt) (818pt,867pt) -- (818pt,452.3pt) (50.7pt,657pt) -- (1074pt,657pt);
\draw[boxG, line width=1.2pt] (47pt,437pt) rectangle (1070pt,19pt);
\draw[boxG, line width=1.2pt] (302pt,437pt) -- (302pt,19pt) (558pt,437pt) -- (558pt,19pt) (815pt,437pt) -- (815pt,19pt) (47pt,225pt) -- (1070pt,225pt);

% ---------- side labels
\node[font=\sidefont, rotate=90, anchor=base] at (33pt,659.5pt) {Left-eigenvectors};
\node[font=\sidefont, rotate=90, anchor=base] at (33pt,228pt) {Right-eigenvectors};
\end{tikzpicture}
\end{document}
